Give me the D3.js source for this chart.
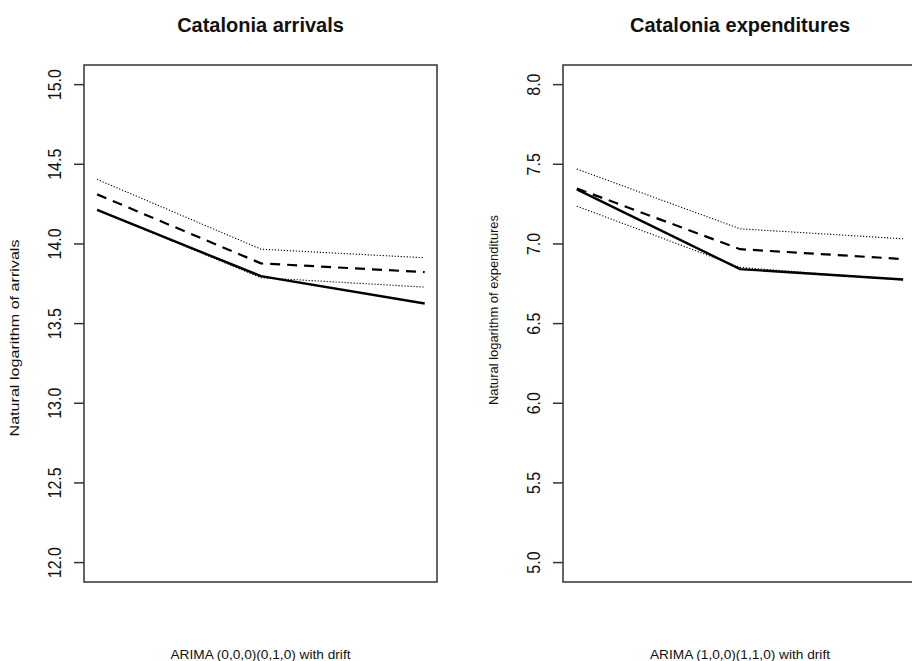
<!DOCTYPE html>
<html>
<head>
<meta charset="utf-8">
<script src="https://cdn.jsdelivr.net/npm/d3@7"></script>
<style>
  html, body { margin: 0; padding: 0; background: #fff; }
  svg { display: block; }
  text { font-family: "Liberation Sans", Arial, sans-serif; fill: #111; }
</style>
</head>
<body>
<script>
// ---------- data ----------
const horizon = [1, 2, 3];

const arrivalsActual   = [14.21, 13.795, 13.623];
const arrivalsForecast = [14.308, 13.875, 13.82];
const arrivalsUpper    = [14.402, 13.964, 13.91];
const arrivalsLower    = [14.21, 13.785, 13.726];

const expendActual   = [7.339, 6.839, 6.774];
const expendForecast = [7.345, 6.964, 6.902];
const expendUpper    = [7.467, 7.092, 7.029];
const expendLower    = [7.234, 6.85, 6.77];

const arrivalsTicks = [12.0, 12.5, 13.0, 13.5, 14.0, 14.5, 15.0];
const expendTicks   = [5.0, 5.5, 6.0, 6.5, 7.0, 7.5, 8.0];

const titles  = ["Catalonia arrivals", "Catalonia expenditures"];
const yLabels = ["Natural logarithm of arrivals", "Natural logarithm of expenditures"];
const xLabels = ["ARIMA (0,0,0)(0,1,0) with drift", "ARIMA (1,0,0)(1,1,0) with drift"];

// ---------- layout ----------
const W = 912, H = 661;
const svg = d3.select("body").append("svg").attr("width", W).attr("height", H);

const panels = [
  { left: 84, right: 437, top: 65, bottom: 582, xDom: [0.92, 3.075], yDom: [11.875, 15.12],
    ticks: arrivalsTicks, actual: arrivalsActual, fc: arrivalsForecast, up: arrivalsUpper, lo: arrivalsLower,
    title: titles[0], ylab: yLabels[0], xlab: xLabels[0], ylabCenter: 338, ylabLen: 197 },
  { left: 563, right: 917, top: 65, bottom: 582, xDom: [0.915, 3.085], yDom: [4.875, 8.12],
    ticks: expendTicks, actual: expendActual, fc: expendForecast, up: expendUpper, lo: expendLower,
    title: titles[1], ylab: yLabels[1], xlab: xLabels[1], ylabCenter: 310, ylabLen: 190 }
];

panels.forEach(p => {
  const g = svg.append("g");
  const x = d3.scaleLinear().domain(p.xDom).range([p.left, p.right]);
  const y = d3.scaleLinear().domain(p.yDom).range([p.bottom, p.top]);
  const cx = (p.left + p.right) / 2;

  // title
  g.append("text").attr("x", cx).attr("y", 32).attr("text-anchor", "middle")
    .style("font-size", "20px").style("font-weight", "bold").text(p.title);

  // lines
  const line = d3.line().x((d, i) => x(horizon[i])).y(d => y(d));
  g.append("path").datum(p.up).attr("d", line).attr("fill", "none")
    .attr("stroke", "#000").attr("stroke-width", 1.1).attr("stroke-dasharray", "1.2,1.8");
  g.append("path").datum(p.lo).attr("d", line).attr("fill", "none")
    .attr("stroke", "#000").attr("stroke-width", 1.1).attr("stroke-dasharray", "1.2,1.8");
  g.append("path").datum(p.fc).attr("d", line).attr("fill", "none")
    .attr("stroke", "#000").attr("stroke-width", 2.2).attr("stroke-dasharray", "10,7");
  g.append("path").datum(p.actual).attr("d", line).attr("fill", "none")
    .attr("stroke", "#000").attr("stroke-width", 2.4);

  // box
  g.append("rect").attr("x", p.left).attr("y", p.top)
    .attr("width", p.right - p.left).attr("height", p.bottom - p.top)
    .attr("fill", "none").attr("stroke", "#333").attr("stroke-width", 1.5);

  // y axis
  const ax = g.append("g").attr("transform", `translate(${p.left},0)`)
    .call(d3.axisLeft(y).tickValues(p.ticks).tickSize(10).tickPadding(0).tickFormat(d3.format(".1f")));
  ax.select(".domain").remove();
  ax.selectAll(".tick line").attr("stroke", "#333").attr("stroke-width", 1.5);
  ax.selectAll(".tick text")
    .attr("x", null).attr("dy", null)
    .attr("text-anchor", "middle")
    .attr("transform", "translate(-23.5,0) rotate(-90) scale(1,1.12)")
    .attr("y", 0)
    .style("font-size", "16px")
    .style("font-family", "'Liberation Sans', Arial, sans-serif")
    .attr("fill", "#222");

  // y label
  const ylx = p.left - 65;
  g.append("text")
    .attr("transform", `translate(${ylx},${p.ylabCenter}) rotate(-90)`)
    .attr("text-anchor", "middle")
    .attr("textLength", p.ylabLen).attr("lengthAdjust", "spacingAndGlyphs")
    .style("font-size", "12px").text(p.ylab);

  // x label
  g.append("text").attr("x", cx).attr("y", 659).attr("text-anchor", "middle")
    .attr("textLength", 180).attr("lengthAdjust", "spacingAndGlyphs")
    .style("font-size", "13.5px").text(p.xlab);
});
</script>
</body>
</html>
